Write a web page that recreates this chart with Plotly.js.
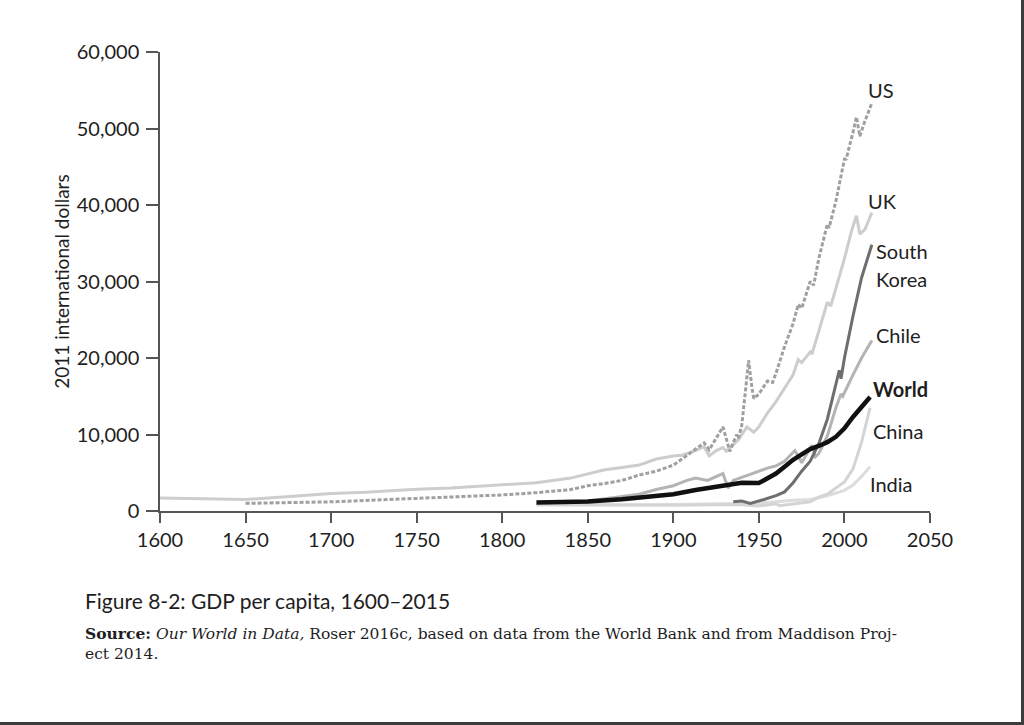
<!DOCTYPE html>
<html>
<head>
<meta charset="utf-8">
<script src="https://cdn.plot.ly/plotly-3.0.1.min.js"></script>
<style>
	body { margin: 0; background: #ffffff; }
	#chart { width: 1021px; height: 722px; border-right: 3px solid #3c3c3c; border-bottom: 3px solid #3c3c3c; }
</style>
</head>
<body>
<div id="chart"></div>
<script>
// GDP per capita, 2011 international dollars
var ukYears = [1600, 1620, 1650, 1680, 1700, 1720, 1750, 1770, 1800, 1820, 1840, 1850, 1860, 1870, 1880, 1890, 1900, 1905, 1913, 1918, 1921, 1925, 1929, 1931, 1935, 1938, 1943, 1945, 1947, 1950, 1955, 1960, 1965, 1970, 1973, 1975, 1980, 1981, 1985, 1990, 1992, 1995, 2000, 2004, 2007, 2009, 2012, 2016];
var ukGdp = [1700, 1650, 1500, 1950, 2300, 2450, 2850, 3000, 3400, 3700, 4300, 4900, 5400, 5700, 6000, 6800, 7200, 7300, 7900, 8400, 7200, 7900, 8300, 7800, 8700, 9300, 11000, 10600, 10300, 11000, 12800, 14300, 16000, 17800, 19800, 19400, 20800, 20500, 23500, 27300, 26800, 29000, 33000, 36500, 38600, 36200, 36800, 39000];

var usYears = [1650, 1700, 1750, 1800, 1820, 1840, 1850, 1860, 1870, 1880, 1890, 1900, 1905, 1910, 1913, 1918, 1921, 1926, 1929, 1933, 1937, 1938, 1940, 1943, 1944, 1946, 1947, 1950, 1955, 1958, 1960, 1965, 1970, 1973, 1975, 1980, 1982, 1985, 1990, 1991, 1995, 2000, 2001, 2005, 2007, 2009, 2012, 2016];
var usGdp = [1000, 1200, 1650, 2100, 2400, 2800, 3300, 3600, 4000, 4700, 5200, 6000, 6800, 7600, 8200, 8900, 8000, 9800, 11000, 7800, 10000, 9500, 11200, 17500, 19700, 16000, 14700, 15300, 17000, 16800, 18000, 21500, 24500, 27000, 26500, 30000, 29500, 33000, 37500, 37000, 40500, 46000, 46000, 49500, 51500, 49000, 51000, 53300];

var chileYears = [1850, 1860, 1870, 1880, 1890, 1900, 1908, 1913, 1920, 1925, 1929, 1932, 1935, 1940, 1945, 1950, 1955, 1960, 1965, 1971, 1973, 1975, 1980, 1981, 1983, 1985, 1990, 1995, 1998, 1999, 2005, 2010, 2016];
var chileGdp = [1300, 1600, 1900, 2200, 2800, 3300, 4000, 4300, 4000, 4500, 4900, 3000, 4000, 4400, 4800, 5300, 5600, 5900, 6500, 7900, 7200, 6300, 8200, 8600, 7100, 7500, 9800, 13500, 15300, 15000, 17800, 20000, 22300];

var koreaYears = [1935, 1940, 1945, 1950, 1953, 1960, 1965, 1970, 1975, 1980, 1985, 1990, 1995, 1997, 1998, 2000, 2005, 2008, 2010, 2016];
var koreaGdp = [1200, 1300, 1000, 1300, 1500, 2000, 2500, 3700, 5200, 6500, 8800, 12000, 16500, 18400, 17300, 20000, 25500, 28500, 30500, 34800];

var worldYears = [1820, 1850, 1870, 1900, 1913, 1929, 1935, 1940, 1950, 1955, 1960, 1965, 1970, 1975, 1980, 1985, 1990, 1995, 2000, 2005, 2010, 2015];
var worldGdp = [1100, 1250, 1550, 2200, 2750, 3300, 3500, 3700, 3650, 4300, 4900, 5800, 6700, 7400, 8100, 8500, 9000, 9700, 10800, 12300, 13700, 14900];

var chinaYears = [1820, 1850, 1870, 1900, 1913, 1929, 1938, 1950, 1955, 1960, 1962, 1970, 1975, 1980, 1985, 1990, 1995, 2000, 2005, 2010, 2015];
var chinaGdp = [900, 850, 750, 750, 800, 850, 850, 650, 850, 950, 700, 900, 1000, 1200, 1800, 2200, 3000, 3800, 5500, 9000, 13500];

var indiaYears = [1820, 1850, 1870, 1900, 1913, 1929, 1940, 1950, 1960, 1970, 1980, 1990, 2000, 2005, 2010, 2015];
var indiaGdp = [800, 750, 750, 850, 900, 950, 900, 1000, 1200, 1400, 1500, 2000, 2700, 3400, 4500, 5800];

var xTicks = [1600, 1650, 1700, 1750, 1800, 1850, 1900, 1950, 2000, 2050];

var sans = 'Lato, "Open Sans", sans-serif';
var ink = '#1e1e1e';
var axisGray = '#555555';

function line(x, y, name, color, width, dash) {
	return {
		x: x,
		y: y,
		name: name,
		type: 'scatter',
		mode: 'lines',
		line: {color: color, width: width, dash: dash || 'solid'},
		hoverinfo: 'x+y+name'
	};
}

var data = [];
data.push(line(indiaYears, indiaGdp, 'India', '#dcdcdc', 3));
data.push(line(chinaYears, chinaGdp, 'China', '#d4d4d4', 3));
data.push(line(ukYears, ukGdp, 'UK', '#cdcdcd', 3));
data.push(line(usYears, usGdp, 'US', '#a0a0a0', 3, '4px,2px'));
data.push(line(chileYears, chileGdp, 'Chile', '#b4b4b4', 3));
data.push(line(koreaYears, koreaGdp, 'South Korea', '#6e6e6e', 3));
data.push(line(worldYears, worldGdp, 'World', '#111111', 4.5));

// end-of-line labels
function label(txt, x, y, bold) {
	return {
		text: bold ? '<b>' + txt + '</b>' : txt,
		x: x, y: y, xref: 'x', yref: 'y',
		xanchor: 'left', yanchor: 'middle',
		showarrow: false,
		font: {family: sans, size: 20, color: ink}
	};
}

var notes = [
	label('US', 2012.5, 55000),
	label('UK', 2012.5, 40500),
	label('South', 2017.5, 34000),
	label('Korea', 2017.5, 30300),
	label('Chile', 2017, 23000),
	label('World', 2015.5, 15950, true),
	label('China', 2015.5, 10450),
	label('India', 2013.5, 3550)
];

notes.push({
	text: 'Figure 8-2: GDP per capita, 1600–2015',
	xref: 'paper', yref: 'paper', x: -0.1, y: -0.194,
	xanchor: 'left', yanchor: 'middle', align: 'left',
	showarrow: false,
	font: {family: sans, size: 21, color: ink}
});
notes.push({
	text: '<b>Source:</b> <i>Our World in Data,</i> Roser 2016c, based on data from the World Bank and from Maddison Proj-<br>ect 2014.',
	xref: 'paper', yref: 'paper', x: -0.1, y: -0.2876,
	xanchor: 'left', yanchor: 'middle', align: 'left',
	showarrow: false,
	font: {family: '"DejaVu Serif", "Liberation Serif", serif', size: 15.5, color: ink}
});

var layout = {
	width: 1021,
	height: 722,
	margin: {l: 160, r: 91, t: 52, b: 211, pad: 0},
	paper_bgcolor: '#ffffff',
	plot_bgcolor: '#ffffff',
	showlegend: false,
	font: {family: sans, color: ink},
	xaxis: {
		range: [1600, 2050],
		tickvals: xTicks,
		ticktext: xTicks.map(String),
		showgrid: false,
		zeroline: false,
		showline: true,
		linecolor: axisGray,
		linewidth: 1.5,
		ticks: 'outside',
		ticklen: 10,
		tickwidth: 1.5,
		tickcolor: axisGray,
		tickfont: {family: sans, size: 20, color: ink}
	},
	yaxis: {
		range: [0, 60000],
		dtick: 10000,
		tickformat: ',d',
		showgrid: false,
		zeroline: false,
		showline: true,
		linecolor: axisGray,
		linewidth: 1.5,
		ticks: 'outside',
		ticklen: 12,
		tickwidth: 1.5,
		tickcolor: axisGray,
		ticklabelstandoff: 3,
		tickfont: {family: sans, size: 20, color: ink},
		title: {
			text: '2011 international dollars',
			font: {family: sans, size: 19, color: ink},
			standoff: 2
		}
	},
	annotations: notes
};

var config = {displayModeBar: false, responsive: false};
Plotly.newPlot(document.getElementById('chart'), data, layout, config);
</script>
</body>
</html>
